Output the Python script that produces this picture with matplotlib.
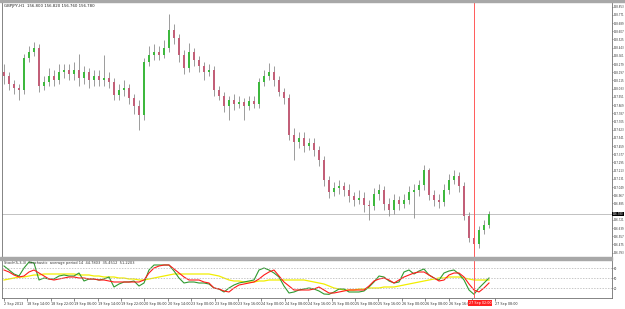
import matplotlib
matplotlib.use("Agg")
import matplotlib.pyplot as plt
import numpy as np
from matplotlib.patches import Rectangle

# GBPJPY hourly bars
first_open = 158.20
closes = [158.16, 158.08, 158.04, 158.02, 158.34, 158.40, 158.44, 158.06, 158.10, 158.16,
          158.12, 158.20, 158.22, 158.18, 158.22, 158.14, 158.20, 158.12, 158.16, 158.12,
          158.14, 158.10, 157.97, 158.02, 158.04, 157.94, 157.86, 157.77, 158.30, 158.37,
          158.40, 158.37, 158.44, 158.62, 158.54, 158.37, 158.24, 158.40, 158.32, 158.26,
          158.20, 158.22, 158.02, 157.96, 157.86, 157.92, 157.88, 157.90, 157.86, 157.91,
          157.88, 158.10, 158.16, 158.20, 158.12, 158.00, 157.94, 157.57, 157.50, 157.54,
          157.46, 157.49, 157.42, 157.32, 157.12, 157.00, 157.04, 157.06, 157.02, 156.96,
          156.92, 156.94, 156.87, 156.86, 156.98, 157.02, 156.88, 156.82, 156.92, 156.88,
          156.92, 157.00, 157.02, 157.07, 157.22, 156.97, 156.92, 156.90, 157.02, 157.12,
          157.16, 157.06, 156.76, 156.54, 156.48, 156.62, 156.67, 156.78]
highs = [158.28, 158.20, 158.12, 158.08, 158.38, 158.46, 158.50, 158.48, 158.16, 158.24,
         158.22, 158.28, 158.28, 158.28, 158.30, 158.38, 158.26, 158.24, 158.22, 158.22,
         158.37, 158.20, 158.14, 158.08, 158.12, 158.08, 157.98, 157.92, 158.34, 158.46,
         158.48, 158.46, 158.52, 158.78, 158.68, 158.58, 158.42, 158.49, 158.44, 158.36,
         158.30, 158.28, 158.26, 158.06, 158.00, 157.96, 157.98, 157.96, 157.94, 157.96,
         157.96, 158.14, 158.22, 158.29, 158.26, 158.16, 158.04, 157.98, 157.64, 157.60,
         157.60, 157.54, 157.54, 157.46, 157.36, 157.16, 157.10, 157.12, 157.10, 157.08,
         157.00, 157.02, 157.00, 156.92, 157.04, 157.08, 157.06, 156.94, 156.98, 156.96,
         156.98, 157.06, 157.08, 157.12, 157.27, 157.24, 157.02, 156.98, 157.08, 157.18,
         157.22, 157.20, 157.10, 156.80, 156.60, 156.66, 156.72, 156.81]
lows = [158.08, 158.02, 157.98, 157.92, 157.98, 158.30, 158.36, 158.00, 158.02, 158.06,
        158.06, 158.08, 158.14, 158.12, 158.12, 158.06, 158.08, 158.04, 158.06, 158.06,
        158.06, 158.04, 157.92, 157.92, 157.96, 157.88, 157.78, 157.62, 157.72, 158.26,
        158.32, 158.32, 158.34, 158.40, 158.48, 158.30, 158.18, 158.20, 158.26, 158.20,
        158.12, 158.16, 157.96, 157.92, 157.80, 157.72, 157.82, 157.84, 157.72, 157.82,
        157.84, 157.84, 158.06, 158.12, 158.06, 157.96, 157.88, 157.52, 157.32, 157.44,
        157.40, 157.42, 157.36, 157.26, 157.06, 156.94, 156.96, 156.98, 156.96, 156.90,
        156.86, 156.88, 156.80, 156.72, 156.82, 156.92, 156.82, 156.76, 156.78, 156.82,
        156.84, 156.88, 156.74, 156.96, 157.02, 156.92, 156.86, 156.84, 156.86, 156.98,
        157.08, 157.00, 156.72, 156.50, 156.39, 156.44, 156.58, 156.64]

# stochastic main / signal and the slow yellow line
stoch_main = [86, 74, 62, 56, 80, 98, 95, 44, 50, 47,
              47, 56, 59, 56, 56, 65, 41, 47, 47, 44,
              47, 53, 23, 32, 38, 38, 41, 26, 35, 74,
              89, 89, 89, 89, 71, 50, 35, 38, 38, 35,
              35, 32, 20, 17, 8, 20, 29, 35, 38, 41,
              44, 74, 80, 74, 65, 53, 26, 5, 8, 14,
              17, 20, 17, 11, 2, 1, 8, 17, 17, 8,
              8, 8, 11, 23, 38, 56, 53, 41, 35, 38,
              68, 74, 62, 71, 77, 59, 50, 44, 65, 71,
              74, 62, 44, 14, 1, 20, 35, 50]
stoch_signal = [74, 68, 59, 53, 56, 68, 74, 65, 56, 47,
                44, 47, 50, 53, 53, 50, 50, 47, 47, 44,
                44, 41, 38, 38, 38, 38, 38, 38, 44, 65,
                80, 86, 89, 89, 77, 65, 53, 44, 44, 44,
                38, 35, 20, 17, 11, 8, 20, 29, 32, 35,
                38, 47, 59, 68, 74, 56, 38, 26, 14, 14,
                14, 14, 17, 23, 14, 5, 5, 8, 11, 14,
                14, 14, 14, 26, 41, 47, 50, 44, 35, 44,
                53, 59, 65, 68, 68, 59, 50, 41, 44, 59,
                65, 65, 53, 32, 14, 8, 20, 35]
slow_line = [44, 47, 50, 53, 53, 56, 59, 59, 62, 62,
             62, 62, 62, 62, 62, 59, 59, 59, 56, 56,
             53, 53, 53, 50, 50, 47, 47, 44, 44, 47,
             50, 53, 56, 59, 62, 62, 62, 62, 62, 62,
             62, 62, 59, 56, 50, 44, 41, 41, 38, 38,
             38, 41, 41, 44, 44, 44, 44, 44, 44, 44,
             44, 41, 38, 35, 32, 26, 20, 17, 14, 14,
             14, 17, 17, 20, 20, 20, 23, 23, 23, 26,
             29, 32, 35, 38, 41, 44, 47, 50, 50, 53,
             53, 53, 50, 47, 44, 44, 44, 44]
levels = [80, 50, 20]

time_labels = ["2 Sep 2013", "18 Sep 14:00", "18 Sep 22:00", "19 Sep 06:00", "19 Sep 14:00",
               "19 Sep 22:00", "20 Sep 06:00", "20 Sep 14:00", "23 Sep 00:00", "23 Sep 08:00",
               "23 Sep 16:00", "24 Sep 00:00", "24 Sep 08:00", "24 Sep 16:00", "25 Sep 00:00",
               "25 Sep 08:00", "25 Sep 16:00", "26 Sep 00:00", "26 Sep 08:00", "26 Sep 16:00",
               "", "27 Sep 08:00"]
cursor_label = "27 Sep 02:00"
cursor_bar = 94

closes = np.array(closes)
opens = np.concatenate([[first_open], closes[:-1]])
x = np.arange(len(closes))
bid = closes[-1]

narrow = ["Liberation Sans Narrow", "DejaVu Sans"]
small = 1.9

W, H = 625, 309
RIGHT = 612
fig = plt.figure(figsize=(W / 100, H / 100), dpi=100)


def box(x0, y0, x1, y1):
    return [x0 / W, 1 - y1 / H, (x1 - x0) / W, (y1 - y0) / H]


ax = fig.add_axes(box(2, 2, RIGHT, 257))
ax2 = fig.add_axes(box(2, 260, RIGHT, 298))
fig.add_artist(Rectangle((0, 1 - 2 / H), 1, 2 / H, transform=fig.transFigure, color="#a8a8a8"))
fig.add_artist(Rectangle((0, 1 - 260 / H), RIGHT / W, 3 / H, transform=fig.transFigure, color="#a8a8a8"))

xmin = -0.4
xmax = xmin + (RIGHT - 2) / 5

# candles
up = closes >= opens
ax.vlines(x, lows, highs, color="#8c8c8c", lw=0.6, zorder=1)
ax.bar(x[up], (closes - opens)[up], bottom=opens[up], width=0.55, color="#3db83d", zorder=2)
ax.bar(x[~up], (closes - opens)[~up], bottom=opens[~up], width=0.55, color="#c25f78", zorder=2)
ax.axhline(bid, color="#b8b8b8", lw=0.6, zorder=0)
ax.axvline(cursor_bar, color="#ff5a5a", lw=0.7, zorder=3)
ax.set_xlim(xmin, xmax)
ax.set_ylim(156.35, 158.90)
ax.set_xticks([])
ax.yaxis.tick_right()
# the bid box covers the scale label behind it
price_ticks = [p for p in np.arange(158.853, 156.36, -0.082) if abs(p - bid) > 0.05]
ax.set_yticks(price_ticks)
ax.set_yticklabels([f"{p:.3f}" for p in price_ticks], family=narrow)
ax.tick_params(axis="y", labelsize=small, length=1, width=0.4, pad=0.3, colors="#333333")
for s in ax.spines.values():
    s.set_color("#707070")
    s.set_linewidth(0.6)
ax.text(0.004, 0.993, "GBPJPY,H1  156.800 156.820 156.760 156.780", transform=ax.transAxes,
        fontsize=2.8, va="top", ha="left", color="#222222")
ax.text(1.0015, bid, f"{bid:.3f}", transform=ax.get_yaxis_transform(), fontsize=small,
        family=narrow, color="white", va="center", ha="left",
        bbox=dict(facecolor="black", edgecolor="none", pad=0.3))

# stochastic panel
ax2.plot(x, slow_line, color="#f2ee00", lw=0.9)
ax2.plot(x, stoch_main, color="#2f9a2f", lw=0.8)
ax2.plot(x, stoch_signal, color="#ff1a1a", lw=0.8)
for lv in levels:
    ax2.axhline(lv, color="#b0b0b0", lw=0.5, ls=(0, (2, 2)))
ax2.axvline(cursor_bar, color="#ff5a5a", lw=0.7)
ax2.set_xlim(xmin, xmax)
ax2.set_ylim(-10, 104)
ax2.yaxis.tick_right()
ax2.set_yticks(levels)
ax2.set_yticklabels([str(v) for v in levels], family=narrow)
ax2.tick_params(axis="y", labelsize=small, length=1, width=0.4, pad=0.3, colors="#333333")
tick_pos = [i * 4.68 for i in range(len(time_labels))]
ax2.set_xticks(tick_pos)
ax2.set_xticklabels(time_labels, ha="left", family=narrow)
ax2.tick_params(axis="x", labelsize=2.4, length=2, width=0.4, pad=1.2, colors="#333333")
for s in ax2.spines.values():
    s.set_color("#707070")
    s.set_linewidth(0.6)
ax2.text(0.004, 0.97, "Stoch(5,3,3)  Stochastic  average period 14  44.7803  35.4512  51.2203",
         transform=ax2.transAxes, fontsize=2.6, va="top", ha="left", color="#333333")
ax2.text(cursor_bar - 1.0, -0.14, cursor_label, transform=ax2.get_xaxis_transform(),
         fontsize=2.4, family=narrow, color="white", va="center", ha="left",
         bbox=dict(facecolor="#ff2020", edgecolor="none", pad=0.6))

fig.savefig("out.png", dpi=100, facecolor="white")
